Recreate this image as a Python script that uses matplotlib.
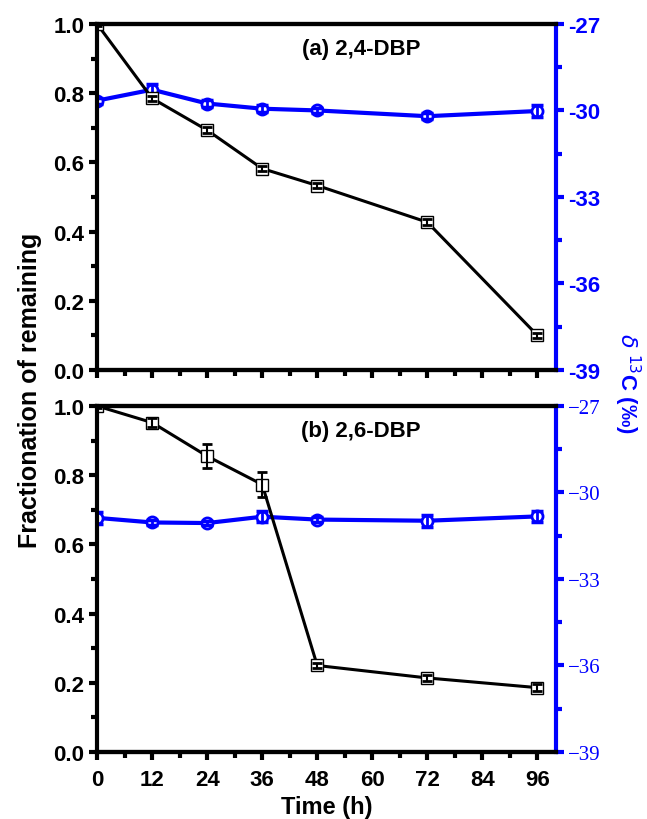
import numpy as np
import matplotlib
matplotlib.use("Agg")
import matplotlib.pyplot as plt
from matplotlib.ticker import MultipleLocator

plt.rcParams['font.family'] = ['Liberation Sans', 'DejaVu Sans']

time_h = [0, 12, 24, 36, 48, 72, 96]

# (a) 2,4-DBP
frac_a = [1.0, 0.785, 0.693, 0.582, 0.533, 0.427, 0.100]
frac_a_err = [0.005, 0.008, 0.008, 0.008, 0.008, 0.008, 0.008]
d13c_a = [-29.66, -29.28, -29.76, -29.94, -30.0, -30.2, -30.02]
d13c_a_err = [0.1, 0.2, 0.12, 0.12, 0.1, 0.1, 0.2]

# (b) 2,6-DBP
frac_b = [1.0, 0.952, 0.855, 0.773, 0.25, 0.214, 0.186]
frac_b_err = [0.005, 0.012, 0.035, 0.035, 0.008, 0.008, 0.01]
d13c_b = [-30.88, -31.04, -31.06, -30.84, -30.94, -30.98, -30.83]
d13c_b_err = [0.2, 0.1, 0.08, 0.2, 0.08, 0.2, 0.2]

panel_titles = ["(a) 2,4-DBP", "(b) 2,6-DBP"]
x_ticks = [0, 12, 24, 36, 48, 60, 72, 84, 96]
blue = '#0000ff'

fig = plt.figure(figsize=(6.47, 8.2), dpi=100)
ax_top = fig.add_axes([0.150, 0.5476, 0.709, 0.4220])
ax_bot = fig.add_axes([0.150, 0.0817, 0.709, 0.4220])

panels = [
    (ax_top, frac_a, frac_a_err, d13c_a, d13c_a_err, panel_titles[0]),
    (ax_bot, frac_b, frac_b_err, d13c_b, d13c_b_err, panel_titles[1]),
]

for i, (ax, fr, fr_err, dc, dc_err, title) in enumerate(panels):
    ax2 = ax.twinx()
    ax.set_zorder(ax2.get_zorder() + 1)
    ax.patch.set_visible(False)

    # blue isotope series, error bars drawn over the markers
    ax2.plot(time_h, dc, color=blue, lw=3, marker='o', ms=8,
             mfc='white', mec=blue, mew=2, zorder=2)
    ax2.errorbar(time_h, dc, yerr=dc_err, fmt='none', ecolor=blue,
                 capsize=4, elinewidth=2, capthick=2.5, zorder=3)

    # black fraction series
    ax.plot(time_h, fr, color='black', lw=2.2, marker='s', ms=8,
            mfc='white', mec='black', mew=1.0, zorder=2)
    ax.errorbar(time_h, fr, yerr=fr_err, fmt='none', ecolor='black',
                capsize=3.5, elinewidth=1.5, capthick=2, zorder=3)

    ax.set_xlim(0, 100)
    ax.set_ylim(0, 1.0)
    ax.set_xticks(x_ticks)
    ax.xaxis.set_minor_locator(MultipleLocator(6))
    ax.yaxis.set_minor_locator(MultipleLocator(0.1))
    ax.set_yticks([0, 0.2, 0.4, 0.6, 0.8, 1.0])
    ax.set_yticklabels(['0.0', '0.2', '0.4', '0.6', '0.8', '1.0'])

    ax2.set_ylim(-39, -27)
    ax2.set_yticks([-39, -36, -33, -30, -27])
    ax2.yaxis.set_minor_locator(MultipleLocator(1.5))

    for s in ['left', 'bottom', 'top']:
        ax.spines[s].set_linewidth(3)
        ax2.spines[s].set_linewidth(3)
    ax.spines['right'].set_visible(False)
    ax2.spines['right'].set_color(blue)
    ax2.spines['right'].set_linewidth(3)
    ax2.spines['left'].set_visible(False)

    ax.tick_params(axis='both', which='major', direction='out', length=6,
                   width=3, labelsize=16, right=False, top=False, pad=3)
    ax.tick_params(axis='x', which='major', pad=6)
    ax.tick_params(axis='both', which='minor', direction='out', length=4,
                   width=3, right=False, top=False)
    for lab in ax.get_xticklabels() + ax.get_yticklabels():
        lab.set_fontweight('bold')

    ax2.tick_params(axis='y', which='major', direction='out', length=6,
                    width=3, colors=blue, labelsize=16, pad=3)
    ax2.tick_params(axis='y', which='minor', direction='out', length=4,
                    width=3, colors=blue)

    if i == 0:
        ax.tick_params(axis='x', labelbottom=False)
        ax2.set_yticklabels(['-39', '-36', '-33', '-30', '-27'])
        for lab in ax2.get_yticklabels():
            lab.set_fontweight('bold')
    else:
        ax2.set_yticklabels(['\u221239', '\u221236', '\u221233', '\u221230', '\u221227'])
        for lab in ax2.get_yticklabels():
            lab.set_fontfamily('Liberation Serif')
            lab.set_fontsize(15)
        ax.set_xlabel('Time (h)', fontsize=17, fontweight='bold', labelpad=4)

    ax.text(0.575, 0.928, title, transform=ax.transAxes, ha='center',
            va='center', fontsize=16, fontweight='bold')

fig.text(0.046, 0.524, 'Fractionation of remaining', rotation=90,
         ha='center', va='center', fontsize=18, fontweight='bold')
fig.text(0.970, 0.533, r'$\delta$ $^{13}$C (‰)', rotation=270,
         ha='center', va='center', fontsize=16, fontweight='bold', color=blue)

fig.savefig('out.png', dpi=100)
